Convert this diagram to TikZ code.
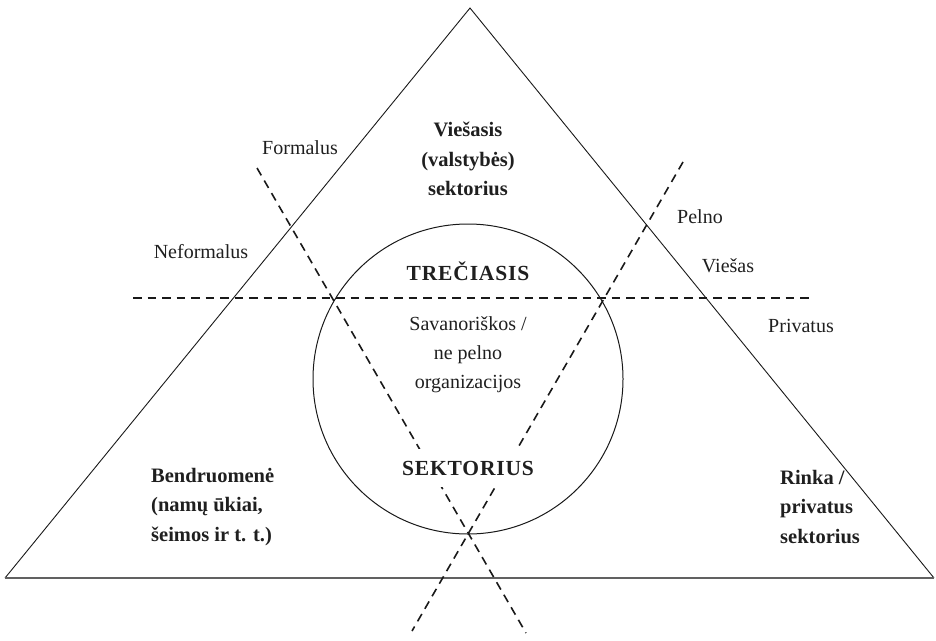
\documentclass[tikz,border=0pt]{standalone}
\usepackage{fontspec}
\setmainfont{Liberation Serif}
\newfontfamily\capsfont[LetterSpace=4]{Liberation Serif}
\begin{document}
\begin{tikzpicture}[x=1pt,y=-1pt,
  side/.style={line width=0.9pt, black!90},
  basel/.style={line width=1.7pt, black!62},
  ring/.style={line width=1pt, black!90},
  divider/.style={dash pattern=on 8.5pt off 6pt, line width=1.6pt, black!90},
  lbl/.style={inner sep=0pt, text=black!88, font=\fontsize{20}{29}\selectfont},
  sect/.style={inner sep=0pt, text=black!88, font=\fontsize{20.5}{29.5}\selectfont\bfseries},
  caps/.style={inner sep=0pt, text=black!88, font=\fontsize{21.5}{24}\selectfont\capsfont\bfseries}]
\useasboundingbox (0,0) rectangle (936,640);

% triangle corners
\coordinate (bl) at (5,578);
\coordinate (apex) at (470,8);
\coordinate (br) at (934,578);

% dashed divider end points
\coordinate (hL) at (133,298);
\coordinate (hR) at (810,298);
\coordinate (aT) at (257,168);
\coordinate (aB) at (526,633);
\coordinate (bT) at (683,162);
\coordinate (bB) at (412,631);

% circle
\coordinate (cc) at (468,379);
\draw[ring] (cc) circle[radius=155];

% triangle
\draw[side] (bl) -- (apex) -- (br);
\draw[basel] (bl) -- (br);

% dividers
\draw[divider] (hL) -- (hR);
\draw[divider] (aT) -- (aB);
\draw[divider] (bT) -- (bB);

% texts
\node[sect, align=center] (pub) at (468,159) {Viešasis\\(valstybės)\\sektorius};
\node[lbl] (formal) at (300,148) {Formalus};
\node[lbl] (neformal) at (201,252) {Neformalus};
\node[lbl] (pelno) at (700,217) {Pelno};
\node[lbl] (viesas) at (728,266) {Viešas};
\node[lbl] (privatus) at (801,326) {Privatus};
\node[caps] (trec) at (468,271) {TREČIASIS};
\node[lbl, align=center] (sav) at (468,355) {Savanoriškos /\\ne pelno\\organizacijos};
\node[caps, fill=white, inner xsep=2pt, inner ysep=12pt] (sekt) at (468,468) {SEKTORIUS};
\node[sect, align=left, anchor=west] (bendr) at (151,507) {Bendruomenė\\(namų ūkiai,\\šeimos ir t. t.)};
\node[sect, align=left, anchor=west] (rinka) at (780,507) {Rinka /\\privatus\\sektorius};
\end{tikzpicture}
\end{document}
